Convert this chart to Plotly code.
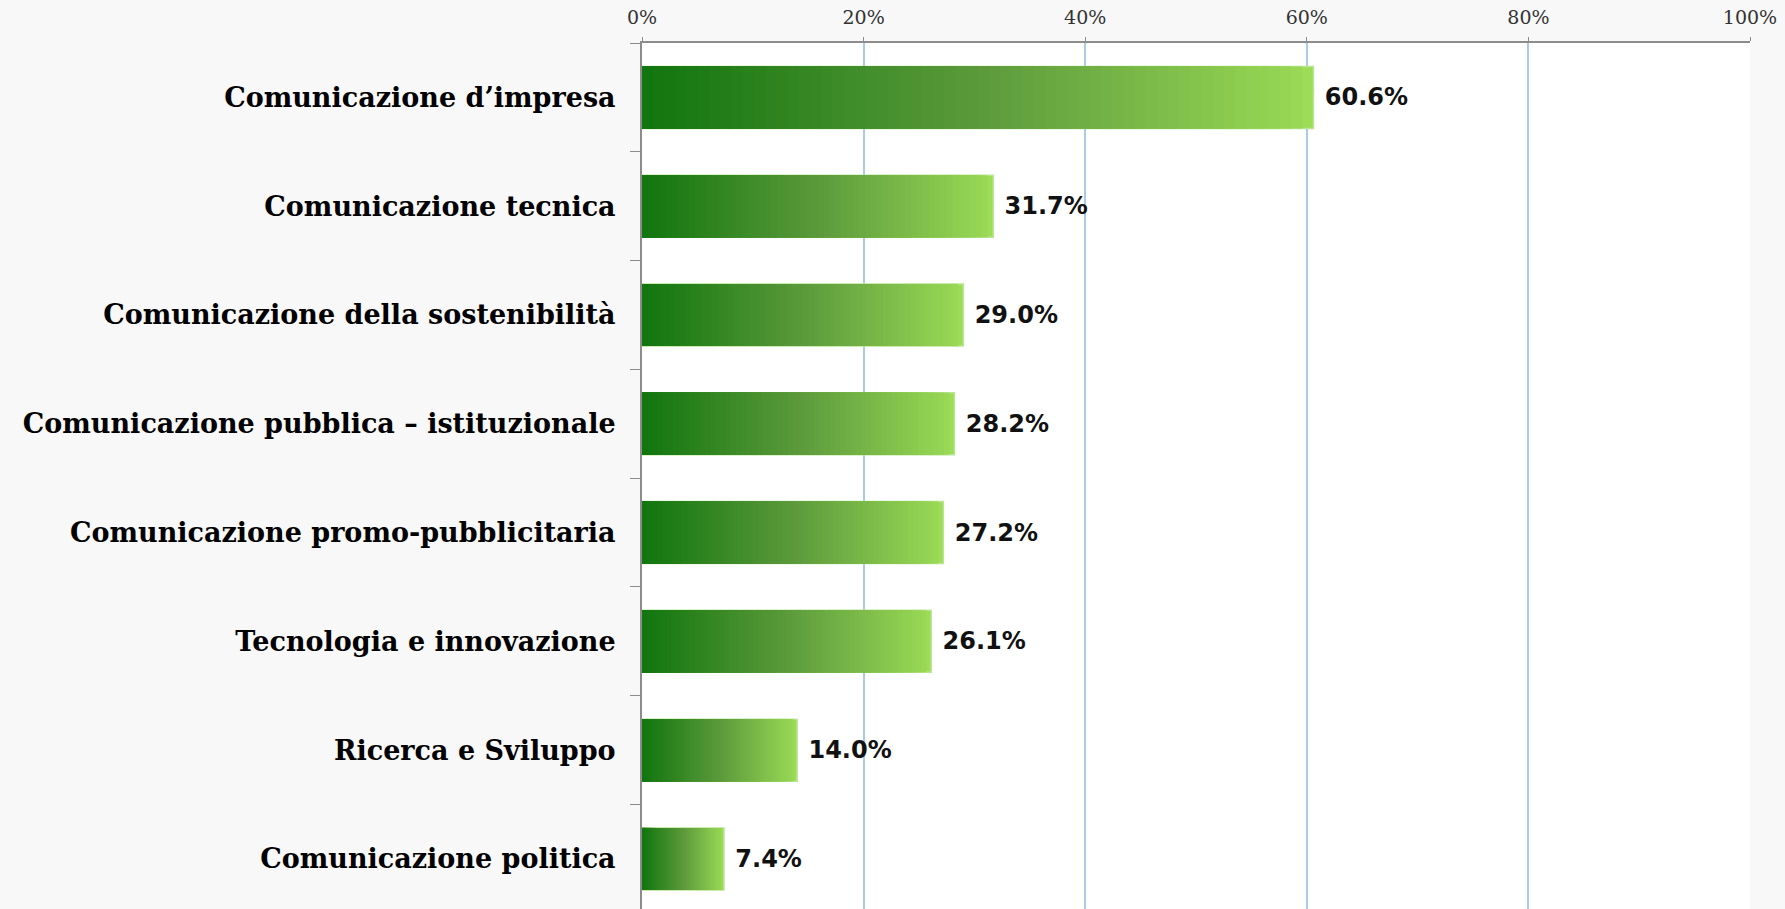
import plotly.graph_objects as go

categories = [
    "Comunicazione d’impresa",
    "Comunicazione tecnica",
    "Comunicazione della sostenibilità",
    "Comunicazione pubblica – istituzionale",
    "Comunicazione promo-pubblicitaria",
    "Tecnologia e innovazione",
    "Ricerca e Sviluppo",
    "Comunicazione politica",
]
values = [60.6, 31.7, 29.0, 28.2, 27.2, 26.1, 14.0, 7.4]
x_ticks = [0, 20, 40, 60, 80, 100]
x_tick_labels = ["0%", "20%", "40%", "60%", "80%", "100%"]

# gradient stops, dark green at the bar root -> light green at the tip
DARK = (18, 118, 14)
MID = (92, 154, 60)
LIGHT = (156, 220, 86)
STEPS = 60


def _mix(t):
    if t < 0.5:
        a, b, u = DARK, MID, t / 0.5
    else:
        a, b, u = MID, LIGHT, (t - 0.5) / 0.5
    return "rgb(%d,%d,%d)" % tuple(round(a[i] + (b[i] - a[i]) * u) for i in range(3))


fig = go.Figure()

# full-length bar carries the outline and the value label
fig.add_trace(go.Bar(
    y=categories, x=values, orientation="h", width=0.57,
    marker=dict(color=_mix(1.0), line=dict(color="#b9e595", width=1.5)),
    text=[f" {v:.1f}%" for v in values], textposition="outside",
    textfont=dict(family="DejaVu Sans", size=24, color="#111111", weight="bold"),
    cliponaxis=False, hoverinfo="skip",
))

# shorter overlaid bars fake the horizontal colour gradient
for k in range(1, STEPS):
    frac = (STEPS - k) / STEPS
    fig.add_trace(go.Bar(
        y=categories, x=[v * frac for v in values], orientation="h", width=0.57,
        marker=dict(color=_mix(frac - 1 / STEPS), line=dict(width=0)),
        hoverinfo="skip",
    ))

fig.update_layout(
    width=1785, height=909,
    barmode="overlay", showlegend=False,
    paper_bgcolor="#f8f8f8", plot_bgcolor="#ffffff",
    margin=dict(l=642, r=35, t=43, b=0),
    xaxis=dict(
        side="top", range=[0, 100], tickvals=x_ticks, ticktext=x_tick_labels,
        showgrid=True, gridcolor="#a9cbea", gridwidth=1.5, zeroline=False,
        showline=True, linecolor="#8c8c8c", linewidth=2,
        ticks="outside", ticklen=4, tickcolor="#8c8c8c", ticklabelstandoff=5,
        tickfont=dict(family="DejaVu Serif", size=19, color="#333333"),
    ),
    yaxis=dict(
        range=[7.46, -0.5], showline=True, linecolor="#8c8c8c", linewidth=2,
        ticks="outside", ticklen=10, tickcolor="#8c8c8c", tickson="boundaries",
        ticklabelstandoff=19, showgrid=False,
        tickfont=dict(family="DejaVu Serif", size=27, color="#000000", weight="bold"),
    ),
)

fig.write_html("out.html", config={"displayModeBar": False},
               post_script="document.body.style.margin = '0';")
